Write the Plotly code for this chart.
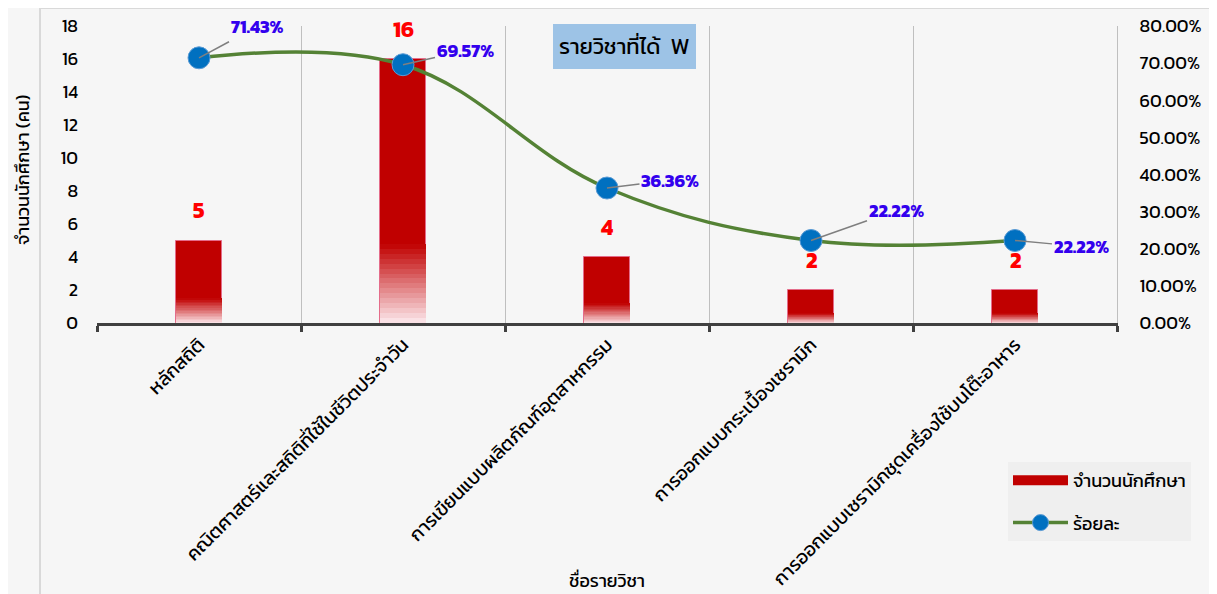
import plotly.graph_objects as go

categories = ["หลักสถิติ", "คณิตศาสตร์และสถิติที่ใช้ในชีวิตประจำวัน", "การเขียนแบบผลิตภัณฑ์อุตสาหกรรม",
              "การออกแบบกระเบื้องเซรามิก", "การออกแบบเซรามิกชุดเครื่องใช้บนโต๊ะอาหาร"]
students = [5, 16, 4, 2, 2]
percent = [0.7143, 0.6957, 0.3636, 0.2222, 0.2222]
pct_offsets = [(58, -31), (62, -14), (63, -8), (85, -30), (66, 6)]

FONT = "Kanit, Prompt, 'Noto Sans', 'Open Sans', sans-serif"

# plot area in page pixels (page has an 8px body margin)
PL, PR, PT, PB = 97, 1117, 26, 323
OFF = 8
W, H = 1217, 594
pw, ph = PR - PL, PB - PT


def px(x):
    return (x - PL) / pw


def py(y):
    return (PB - y) / ph


fig = go.Figure()
fig.add_trace(go.Bar(
    x=categories, y=students, name="จำนวนนักศึกษา", width=0.23, showlegend=False,
    marker=dict(color="#C00000", line=dict(color="#E46C8A", width=1)),
))
# gradient fade over the lower 30% of each bar
N = 16
FADE = 0.30
top_rgb = (192, 0, 0)
bot_rgb = (252, 232, 236)
for i in range(N):
    t = (i + 0.5) / N
    col = tuple(round(b + (a - b) * t) for a, b in zip(top_rgb, bot_rgb))
    fig.add_trace(go.Bar(
        x=categories, y=[v * FADE / N for v in students], base=[v * FADE * i / N for v in students],
        width=0.23 - 0.004, showlegend=False, hoverinfo="skip",
        marker=dict(color="rgb(%d,%d,%d)" % col, line=dict(width=0)),
    ))
# legend proxy for the bar series (wide swatch as in the original)
fig.add_trace(go.Scatter(
    x=[None], y=[None], name="จำนวนนักศึกษา", mode="lines", legendgroup="a",
    line=dict(color="#C00000", width=11),
))
fig.add_trace(go.Scatter(
    x=categories, y=percent, name="ร้อยละ", yaxis="y2", mode="lines+markers", legendgroup="b",
    line=dict(color="#548235", width=3.5, shape="spline", smoothing=1.1),
    marker=dict(size=22, color="#0070C0", line=dict(color="#5B9BD5", width=1)),
))

annotations = []
for c, v in zip(categories, students):
    annotations.append(dict(x=c, y=v, xref="x", yref="y", text=f"<b>{v}</b>", showarrow=False,
                            yshift=30, font=dict(color="#FF0000", size=22, family=FONT)))
for c, p, (ax, ay) in zip(categories, percent, pct_offsets):
    annotations.append(dict(x=c, y=p, xref="x", yref="y2", text=f"<b>{p*100:.2f}%</b>",
                            showarrow=True, arrowhead=0, arrowwidth=1.5, arrowcolor="#7F7F7F",
                            ax=ax, ay=ay, xanchor="center", standoff=0,
                            font=dict(color="#3300EE", size=18, family=FONT)))
annotations.append(dict(x=px(624), y=py(46), xref="paper", yref="paper", text="รายวิชาที่ได้  W",
                        xanchor="center", yanchor="middle",
                        showarrow=False, bgcolor="#9DC3E6", bordercolor="#9DC3E6", borderpad=5,
                        font=dict(size=22, color="#000000", family=FONT)))
annotations.append(dict(x=px(607), y=py(580), xref="paper", yref="paper", xanchor="center", yanchor="middle",
                        text="ชื่อรายวิชา", showarrow=False, font=dict(size=18, color="#000", family=FONT)))
annotations.append(dict(x=px(22), y=py(170), xref="paper", yref="paper", xanchor="center", yanchor="middle",
                        text="จำนวนนักศึกษา (คน)", textangle=-90, showarrow=False,
                        font=dict(size=18, color="#000", family=FONT)))

fig.update_layout(
    width=W, height=H,
    margin=dict(l=PL - OFF, r=W - (PR - OFF), t=PT - OFF, b=H - (PB - OFF), autoexpand=False),
    paper_bgcolor="#F6F6F6", plot_bgcolor="rgba(0,0,0,0)",
    font=dict(family=FONT, size=18, color="#000000"),
    showlegend=True,
    legend=dict(x=px(1008), y=py(462), xanchor="left", yanchor="top",
                bgcolor="#EFEFEF", font=dict(size=18, family=FONT), tracegroupgap=16,
                itemwidth=55),
    barmode="overlay",
    bargap=0,
    xaxis=dict(type="category", tickson="boundaries", showgrid=True, gridcolor="#BFBFBF", gridwidth=1,
               showline=True, linecolor="#404040", linewidth=3, ticks="outside", ticklen=6,
               tickwidth=3, tickcolor="#404040", tickangle=-45, tickfont=dict(size=19),
               range=[-0.5, 4.5], automargin=False),
    yaxis=dict(range=[0, 18], dtick=2, showgrid=False, zeroline=False, showline=False,
               tickfont=dict(size=18), ticklabelstandoff=18, automargin=False),
    yaxis2=dict(range=[0, 0.8], dtick=0.1, tickformat=".2%", overlaying="y", side="right",
                showgrid=False, zeroline=False, showline=True, linecolor="#BFBFBF", linewidth=1,
                tickfont=dict(size=18), ticklabelstandoff=18, automargin=False),
    annotations=annotations,
    shapes=[dict(type="rect", xref="paper", yref="paper",
                 x0=px(40), x1=px(1210), y0=py(620), y1=py(8),
                 line=dict(color="#D9D9D9", width=2), fillcolor="rgba(0,0,0,0)", layer="below")],
)

fig.write_html("out.html")
